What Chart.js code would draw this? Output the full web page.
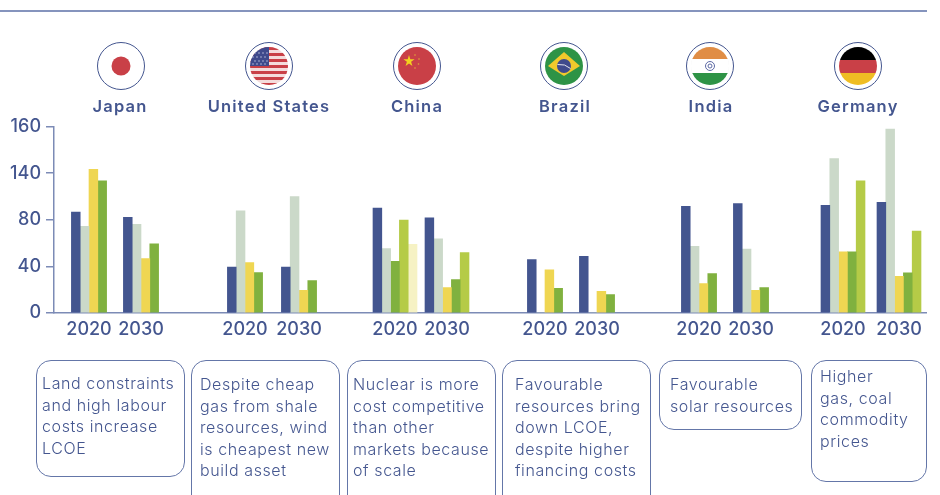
<!DOCTYPE html>
<html>
<head>
<meta charset="utf-8">
<script src="https://cdn.jsdelivr.net/npm/chart.js@4"></script>
<style>
  html, body { margin: 0; background: #fff; overflow: hidden; }
  #page { position: relative; width: 940px; height: 495px; overflow: hidden; color: #44568f; font-family: Inter, sans-serif; }
  #myChart { position: absolute; left: 0; top: 0; }
  .rule { position: absolute; left: 0; top: 10px; width: 927px; height: 2px; background: #8594bd; }
  .flag { position: absolute; top: 42px; width: 48px; height: 48px; margin-left: -24px; }
  .country { position: absolute; top: 95px; width: 160px; margin-left: -80px; text-align: center; font-size: 16.5px; font-weight: 600; letter-spacing: 1.2px; line-height: 22px; }
  .note { position: absolute; top: 360px; box-sizing: border-box; border: 1.5px solid #6476a8; border-radius: 15px; font-size: 16px; font-weight: 300; line-height: 21.5px; letter-spacing: .6px; color: #44568f; white-space: nowrap; }
</style>
</head>
<body>
<div id="page">
  <canvas id="myChart" width="940" height="495"></canvas>
  <div class="rule"></div>

  <svg class="flag" style="left:120.5px" viewBox="0 0 48 48"><circle cx="24" cy="24" r="23.5" fill="#fff" stroke="#44568f"/><circle cx="24" cy="24" r="9.5" fill="#c94047"/></svg>
  <svg class="flag" style="left:268.7px" viewBox="0 0 48 48">
    <defs><clipPath id="c1"><circle cx="24" cy="24" r="19"/></clipPath></defs>
    <circle cx="24" cy="24" r="23.5" fill="#fff" stroke="#44568f"/>
    <g clip-path="url(#c1)">
      <rect x="4" y="5" width="40" height="38" fill="#f4dcdc"/>
      <g fill="#c94047">
        <rect x="4" y="5" width="40" height="3"/><rect x="4" y="11" width="40" height="3"/><rect x="4" y="17" width="40" height="3"/>
        <rect x="4" y="23" width="40" height="3"/><rect x="4" y="29" width="40" height="3"/><rect x="4" y="35" width="40" height="3"/><rect x="4" y="41" width="40" height="3"/>
      </g>
      <rect x="4" y="5" width="20" height="19" fill="#3f4a8c"/>
      <g fill="#cfd3ea">
        <circle cx="10" cy="11" r=".7"/><circle cx="14" cy="11" r=".7"/><circle cx="18" cy="11" r=".7"/><circle cx="22" cy="11" r=".7"/>
        <circle cx="8" cy="15" r=".7"/><circle cx="12" cy="15" r=".7"/><circle cx="16" cy="15" r=".7"/><circle cx="20" cy="15" r=".7"/>
        <circle cx="10" cy="19" r=".7"/><circle cx="14" cy="19" r=".7"/><circle cx="18" cy="19" r=".7"/><circle cx="22" cy="19" r=".7"/>
        <circle cx="8" cy="22" r=".7"/><circle cx="12" cy="22" r=".7"/><circle cx="16" cy="22" r=".7"/><circle cx="20" cy="22" r=".7"/>
      </g>
    </g>
  </svg>
  <svg class="flag" style="left:417px" viewBox="0 0 48 48">
    <circle cx="24" cy="24" r="23.5" fill="#fff" stroke="#44568f"/><circle cx="24" cy="24" r="19" fill="#c94047"/>
    <polygon points="16,13 17.3,17.2 21.6,17.2 18.1,19.8 19.4,24 16,21.4 12.6,24 13.9,19.8 10.4,17.2 14.7,17.2" fill="#f2d21f"/>
    <g fill="#e2a63a"><circle cx="22" cy="13" r=".8"/><circle cx="26" cy="17" r=".8"/><circle cx="25.5" cy="22" r=".8"/><circle cx="22" cy="26" r=".8"/></g>
  </svg>
  <svg class="flag" style="left:564.3px" viewBox="0 0 48 48">
    <circle cx="24" cy="24" r="23.5" fill="#fff" stroke="#44568f"/><circle cx="24" cy="24" r="19" fill="#2e9346"/>
    <polygon points="24,10 40,24 24,34 8,24" fill="#f1c92c"/><circle cx="24" cy="24" r="7" fill="#3f4a8c"/>
    <path d="M17.5 22.5 Q25 21.5 30.5 26.5" stroke="#e6e6ee" stroke-width="1" fill="none"/>
  </svg>
  <svg class="flag" style="left:710px" viewBox="0 0 48 48">
    <defs><clipPath id="c2"><circle cx="24" cy="24" r="19"/></clipPath></defs>
    <circle cx="24" cy="24" r="23.5" fill="#fff" stroke="#44568f"/><circle cx="24" cy="24" r="19" fill="#f1f1f1"/>
    <g clip-path="url(#c2)"><rect x="4" y="5" width="40" height="12" fill="#e08d45"/><rect x="4" y="31" width="40" height="12" fill="#2e9346"/><rect x="4" y="17" width="40" height="14" fill="#fff"/></g>
    <circle cx="24" cy="24" r="4.5" fill="none" stroke="#5d6aa5"/><circle cx="24" cy="24" r="2" fill="none" stroke="#5d6aa5"/>
  </svg>
  <svg class="flag" style="left:858px" viewBox="0 0 48 48">
    <defs><clipPath id="c3"><circle cx="24" cy="24" r="19"/></clipPath></defs>
    <circle cx="24" cy="24" r="23.5" fill="#fff" stroke="#44568f"/>
    <g clip-path="url(#c3)"><rect x="4" y="5" width="40" height="13" fill="#000"/><rect x="4" y="18" width="40" height="13" fill="#c94047"/><rect x="4" y="31" width="40" height="13" fill="#efbd24"/></g>
  </svg>

  <div class="country" style="left:120px">Japan</div>
  <div class="country" style="left:269px">United States</div>
  <div class="country" style="left:417px">China</div>
  <div class="country" style="left:565px">Brazil</div>
  <div class="country" style="left:711px">India</div>
  <div class="country" style="left:858px">Germany</div>

  <div class="note" style="left:36px;width:149px;height:117px;padding:12px 0 0 5px">Land constraints<br>and high labour<br>costs increase<br>LCOE</div>
  <div class="note" style="left:191px;width:149px;height:150px;padding:13px 0 0 8px">Despite cheap<br>gas from shale<br>resources, wind<br>is cheapest new<br>build asset</div>
  <div class="note" style="left:347px;width:149px;height:150px;padding:13px 0 0 5px">Nuclear is more<br>cost competitive<br>than other<br>markets because<br>of scale</div>
  <div class="note" style="left:502px;width:149px;height:150px;padding:13px 0 0 12px">Favourable<br>resources bring<br>down LCOE,<br>despite higher<br>financing costs</div>
  <div class="note" style="left:659px;width:143px;height:70px;padding:13px 0 0 10px">Favourable<br>solar resources</div>
  <div class="note" style="left:811px;width:116px;height:122px;padding:5px 0 0 8px">Higher<br>gas, coal<br>commodity<br>prices</div>
</div>

<script>
const categories = ['2020', '2030', '2020', '2030', '2020', '2030', '2020', '2030', '2020', '2030', '2020', '2030'];

// bar heights, Japan 2020 first, Germany 2030 last. null = no bar, 0 keeps the empty slot (Brazil)
const nuclear = [86.6, 82, 39.3, 39.3, 90, 81.7, 45.9, 48.7, 91.5, 93.8, 92.3, 94.9];
const fossil = [74.3, 76, 87.7, 99.8, 55.3, 63.7, 0, 0, 57.3, 54.8, 132.5, 157.7];
const solar = [123.3, 46.7, 43.3, 19.5, null, 21.8, 37, 18.6, 25.2, 19.5, 52.5, 31.5];
const wind = [113.3, 59.4, 34.7, 27.8, 44.4, 28.7, 21.2, 15.8, 33.8, 21.8, 52.5, 34.4];
const offshore = [null, null, null, null, 79.7, 51.9, null, null, null, null, 113.3, 70.3];
const other = [null, null, null, null, 59, null, null, null, null, null, null, null];

// the source axis is evenly spaced but printed like this, 140 sits where 120 would be
const yTickLabels = ['0', '40', '80', '140', '160'];

// empty category slots in front of each year, the groups are not evenly spread
const emptySlots = [17, 25, 51, 26, 47, 25, 48, 25, 50, 25, 45, 27];
const trailingSlots = 13;

const textColor = '#44568f';
const axisColor = '#7c8bb6';
const tickFont = { family: 'Inter', size: 18, weight: '500' };

function spread(values) {
  const out = [];
  values.forEach((v, i) => {
    for (let n = 0; n < emptySlots[i]; n++) out.push(null);
    out.push(v);
  });
  for (let n = 0; n < trailingSlots; n++) out.push(null);
  return out;
}

function series(label, values, color) {
  return { label: label, data: spread(values), backgroundColor: color, barThickness: 8.8, skipNull: true };
}

const data = {
  labels: spread(categories).map(l => l === null ? '' : l),
  datasets: [
    series('Nuclear', nuclear, '#43558f'),
    series('Fossil', fossil, '#cbd9c9'),
    series('Solar', solar, '#efd652'),
    series('Wind', wind, '#80b13f'),
    series('Offshore wind', offshore, '#b5cb47'),
    series('Other', other, '#f6f2c4')
  ]
};

const config = {
  type: 'bar',
  data: data,
  options: {
    responsive: false,
    animation: false,
    layout: { padding: { left: 0, right: 14, top: 126.5, bottom: 152 } },
    plugins: { legend: { display: false }, title: { display: false }, tooltip: { enabled: false } },
    scales: {
      x: {
        afterFit: scale => { scale.height = 30; },
        grid: { display: false },
        border: { color: axisColor, width: 1.5 },
        ticks: {
          color: textColor, font: tickFont, autoSkip: false, minRotation: 0, maxRotation: 0, padding: -2,
          callback: function (value) { return this.getLabelForValue(value); }
        }
      },
      y: {
        min: 0,
        max: 160,
        afterFit: scale => { scale.width = 54; },
        grid: { drawOnChartArea: false, color: axisColor, tickLength: 8, lineWidth: 1.5 },
        border: { color: axisColor, width: 1.5 },
        ticks: {
          stepSize: 40, color: textColor, font: tickFont, padding: 5,
          callback: (value, index) => yTickLabels[index]
        }
      }
    }
  }
};

const myChart = new Chart(document.getElementById('myChart'), config);
</script>
</body>
</html>
